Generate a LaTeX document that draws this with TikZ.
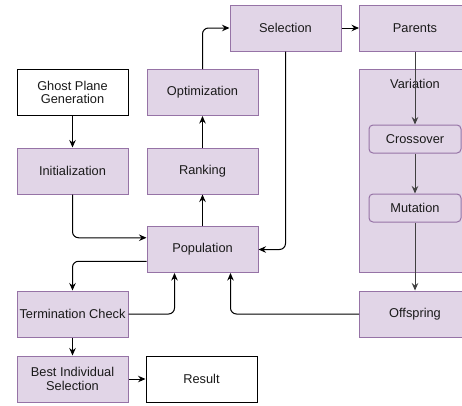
\documentclass[tikz,border=0pt]{standalone}
\usepackage{fontspec}
\setmainfont{Liberation Sans}
\usetikzlibrary{arrows.meta,calc}
\definecolor{pfill}{HTML}{E1D5E7}
\definecolor{pdraw}{HTML}{9673A6}
\definecolor{txt}{HTML}{1A1A1A}
\begin{document}
\begin{tikzpicture}[x=1pt,y=-1pt,
  font=\fontsize{12.8}{13.8}\selectfont, text=txt,
  pbox/.style={draw=pdraw, fill=pfill, line width=1pt, minimum width=111pt, minimum height=46pt, inner sep=0pt, align=center},
  wbox/.style={draw=black, fill=white, line width=1pt, minimum width=111pt, minimum height=46pt, inner sep=0pt, align=center},
  rbox/.style={draw=pdraw, fill=pfill, line width=1pt, rounded corners=4pt, minimum width=92pt, minimum height=28pt, inner sep=0pt},
  conbox/.style={draw=pdraw, fill=pfill, line width=1pt, minimum width=112pt, minimum height=203pt, inner sep=0pt},
  conn/.style={draw=black, line width=1pt, rounded corners=6pt, -{Stealth[length=7.5pt,width=6.5pt,inset=2.5pt]}},
  connd/.style={conn, draw=black!75}
]
\useasboundingbox (0,0) rectangle (462,405);

\node[wbox] (ghost) at (72.5,92.5) {Ghost Plane\\Generation};
\node[pbox] (init) at (72.5,171) {Initialization};
\node[pbox] (opt) at (202.5,92.5) {Optimization};
\node[pbox] (rank) at (202.5,171) {Ranking};
\node[pbox] (sel) at (285.5,28) {Selection};
\node[pbox] (par) at (415,28) {Parents};
\node[conbox, label={[inner sep=0pt, anchor=center, yshift=-15pt]north:Variation}] (var) at (415,170.5) {};
\node[rbox] (cross) at (415,139) {Crossover};
\node[rbox] (mut) at (415,208) {Mutation};
\node[pbox] (off) at (415,314) {Offspring};
\node[pbox] (pop) at (202.5,249.5) {Population};
\node[pbox] (term) at (72.5,314) {Termination Check};
\node[pbox] (best) at (72.5,379) {Best Individual\\Selection};
\node[wbox] (res) at (201.5,379) {Result};

\coordinate (pin) at ($(pop.north west)!0.25!(pop.south west)$);
\coordinate (pout) at ($(pop.north west)!0.75!(pop.south west)$);
\coordinate (pb1) at ($(pop.south west)!0.25!(pop.south east)$);
\coordinate (pb2) at ($(pop.south west)!0.75!(pop.south east)$);

\draw[conn] (ghost.south) -- (init.north);
\draw[conn] (init.south) |- (pin);
\draw[conn] (pout) -| (term.north);
\draw[conn] (term.east) -| (pb1);
\draw[conn] (term.south) -- (best.north);
\draw[conn] (off.west) -| (pb2);
\draw[conn] (pop.north) -- (rank.south);
\draw[conn] (rank.north) -- (opt.south);
\draw[conn] (opt.north) |- (sel.west);
\draw[conn] (sel.south) |- (pop.east);
\draw[conn] (sel.east) -- (par.west);
\draw[connd] (par.south) -- (cross.north);
\draw[connd] (cross.south) -- (mut.north);
\draw[connd] (mut.south) -- (off.north);
\draw[conn] (best.east) -- (res.west);
\end{tikzpicture}
\end{document}
